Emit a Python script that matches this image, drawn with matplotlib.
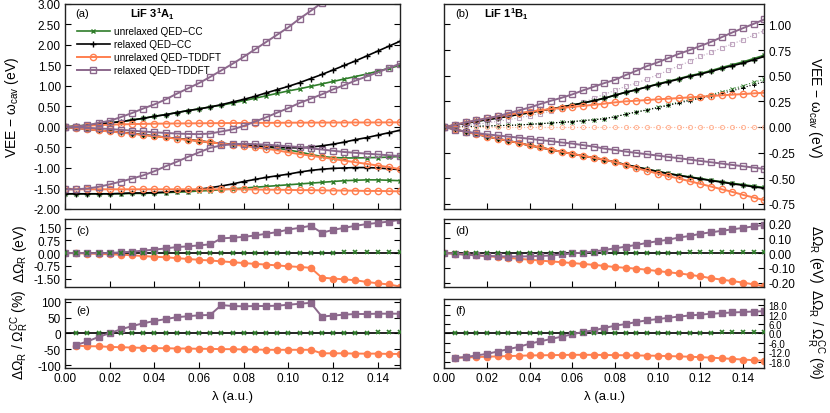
import matplotlib
matplotlib.use("Agg")
import matplotlib.pyplot as plt

plt.rcParams['font.family'] = ['Liberation Sans', 'DejaVu Sans']
plt.rcParams['mathtext.fontset'] = 'custom'
plt.rcParams['mathtext.rm'] = 'Liberation Sans'
plt.rcParams['mathtext.it'] = 'Liberation Sans:italic'
plt.rcParams['mathtext.bf'] = 'Liberation Sans:bold'
plt.rcParams['axes.unicode_minus'] = False

# coupling strength grid (a.u.)
lam = [round(0.005 * i, 3) for i in range(31)]
lam_pct = lam[1:]

# ---- panel (a): LiF 3^1A_1, VEE - w_cav (eV) ----
a_unrel_cc = [
    [0, .02, .04, .07, .10, .13, .17, .21, .26, .30, .35, .40, .44, .49, .53, .585, .64, .70, .76, .82,
     .88, .93, .99, 1.05, 1.11, 1.17, 1.23, 1.29, 1.36, 1.43, 1.50],
    [0, -.025, -.05, -.08, -.105, -.13, -.16, -.19, -.22, -.25, -.28, -.31, -.34, -.37, -.40, -.42, -.44,
     -.46, -.49, -.52, -.56, -.61, -.67, -.72, -.745, -.755, -.755, -.75, -.745, -.735, -.72],
    [-1.63, -1.63, -1.63, -1.63, -1.63, -1.63, -1.62, -1.62, -1.61, -1.60, -1.59, -1.58, -1.56, -1.55,
     -1.53, -1.51, -1.49, -1.47, -1.45, -1.43, -1.41, -1.39, -1.37, -1.35, -1.33, -1.31, -1.30, -1.29,
     -1.29, -1.30, -1.31],
]
a_rel_cc = [
    [0, .02, .045, .07, .10, .13, .17, .21, .26, .30, .35, .40, .44, .49, .544, .61, .673, .746, .83, .91,
     .99, 1.08, 1.18, 1.28, 1.39, 1.50, 1.61, 1.73, 1.85, 1.97, 2.09],
    [0, -.025, -.05, -.08, -.105, -.13, -.16, -.19, -.22, -.25, -.28, -.31, -.34, -.37, -.40, -.42, -.44,
     -.46, -.48, -.495, -.505, -.51, -.49, -.46, -.42, -.37, -.31, -.26, -.20, -.14, -.08],
    [-1.63, -1.63, -1.63, -1.63, -1.63, -1.62, -1.61, -1.61, -1.60, -1.59, -1.57, -1.55, -1.52, -1.48,
     -1.44, -1.39, -1.33, -1.28, -1.23, -1.19, -1.15, -1.10, -1.06, -1.03, -1.01, -1.00, -.99, -.99,
     -1.00, -1.02, -1.04],
]
a_unrel_td = [
    [0, .01, .03, .045, .055, .065, .07, .075, .08, .083, .086, .088, .09, .092, .094, .096, .098, .10,
     .10, .102, .104, .105, .106, .107, .108, .109, .11, .11, .111, .112, .113],
    [0, -.03, -.055, -.085, -.11, -.135, -.165, -.195, -.225, -.255, -.285, -.315, -.345, -.375, -.405,
     -.43, -.46, -.50, -.53, -.57, -.62, -.66, -.70, -.74, -.78, -.82, -.86, -.90, -.94, -.98, -1.03],
    [-1.52, -1.52, -1.52, -1.52, -1.52, -1.52, -1.52, -1.52, -1.52, -1.52, -1.52, -1.52, -1.52, -1.52,
     -1.52, -1.52, -1.52, -1.525, -1.53, -1.53, -1.535, -1.54, -1.54, -1.545, -1.55, -1.55, -1.555,
     -1.56, -1.56, -1.565, -1.57],
]
a_rel_td = [
    [0, .0, .04, .10, .15, .24, .34, .45, .55, .67, .81, .94, 1.07, 1.22, 1.38, 1.54, 1.71, 1.89, 2.07,
     2.25, 2.43, 2.64, 2.83, 3.03, 3.23, 3.43, 3.63, 3.83, 4.03, 4.23, 4.43],
    [0, -.005, -.02, -.035, -.05, -.07, -.09, -.11, -.13, -.145, -.16, -.17, -.175, -.16, -.11, -.06,
     .024, .13, .234, .35, .46, .585, .69, .795, .917, 1.02, 1.13, 1.23, 1.33, 1.44, 1.54],
    [-1.52, -1.52, -1.50, -1.46, -1.40, -1.33, -1.26, -1.18, -1.08, -.96, -.85, -.73, -.62, -.51, -.45,
     -.42, -.41, -.42, -.43, -.45, -.47, -.49, -.52, -.55, -.58, -.61, -.63, -.65, -.67, -.69, -.71],
]

# ---- panel (b): LiF 1^1B_1 ----
b_unrel_cc = [
    [0, .019, .036, .055, .071, .088, .104, .123, .139, .159, .175, .195, .214, .234, .256, .28, .31,
     .338, .364, .392, .42, .446, .472, .50, .522, .55, .58, .607, .635, .667, .70],
    [0, -.023, -.047, -.07, -.093, -.114, -.134, -.157, -.18, -.20, -.221, -.242, -.262, -.282, -.30,
     -.318, -.344, -.367, -.39, -.411, -.433, -.453, -.471, -.487, -.503, -.519, -.534, -.55, -.562,
     -.577, -.59],
]
b_rel_cc = [
    [0, .019, .036, .055, .071, .088, .104, .123, .139, .159, .175, .195, .214, .234, .256, .28, .31,
     .338, .363, .39, .416, .441, .467, .494, .516, .542, .571, .597, .623, .655, .688],
    [0, -.023, -.047, -.07, -.093, -.114, -.134, -.157, -.18, -.20, -.221, -.242, -.262, -.282, -.30,
     -.318, -.344, -.367, -.39, -.412, -.435, -.455, -.474, -.49, -.506, -.523, -.538, -.555, -.568,
     -.584, -.597],
]
b_unrel_td = [
    [0, .022, .044, .064, .084, .103, .12, .136, .15, .163, .175, .186, .196, .206, .216, .227, .24,
     .25, .256, .263, .27, .276, .282, .289, .295, .302, .309, .315, .321, .328, .334],
    [0, -.023, -.047, -.07, -.093, -.114, -.134, -.157, -.18, -.20, -.221, -.242, -.262, -.282, -.30,
     -.318, -.344, -.373, -.402, -.428, -.455, -.48, -.503, -.529, -.555, -.581, -.607, -.633, -.662,
     -.688, -.714],
]
b_rel_td = [
    [0, .019, .045, .065, .085, .104, .133, .162, .19, .224, .256, .285, .318, .357, .392, .428, .46,
     .506, .548, .594, .63, .672, .714, .75, .79, .83, .876, .922, .964, 1.006, 1.049],
    [0, -.026, -.046, -.059, -.072, -.083, -.094, -.104, -.115, -.128, -.138, -.151, -.162, -.177, -.191,
     -.211, -.224, -.24, -.253, -.266, -.279, -.292, -.305, -.318, -.331, -.344, -.357, -.37, -.383,
     -.396, -.409],
]
# second (dotted) set of states in (b)
b_unrel_cc_dot = [0, 0, .003, .006, .01, .013, .016, .019, .026, .032, .039, .045, .052, .062, .071, .081,
                  .10, .124, .146, .168, .192, .217, .243, .266, .292, .315, .344, .37, .402, .435, .467]
b_rel_cc_dot = [0, 0, .003, .006, .01, .013, .016, .019, .026, .032, .039, .045, .052, .062, .071, .081,
                .10, .124, .146, .165, .188, .21, .235, .257, .28, .302, .328, .353, .383, .413, .443]
b_unrel_td_dot = [0] * 31
b_rel_td_dot = [0, .005, .015, .025, .04, .055, .07, .09, .11, .13, .155, .18, .21, .24, .28, .318, .357,
                .396, .428, .467, .509, .552, .597, .64, .688, .727, .772, .81, .85, .896, .941]

# ---- panel (c): Delta Omega_R (eV), 3^1A_1 ----
c_unrel_cc = [0] * 24 + [.02, .03, .04, .05, .06, .07, .08]
c_unrel_td = [0, -.01, -.03, -.05, -.08, -.10, -.13, -.18, -.22, -.25, -.30, -.35, -.40, -.44, -.49, -.54,
              -.59, -.64, -.68, -.73, -.78, -.82, -.87, -1.45, -1.50, -1.55, -1.60, -1.70, -1.78, -1.85, -1.97]
c_rel_td = [0, 0, -.01, -.01, 0, .04, .08, .14, .20, .27, .35, .39, .45, .51, .86, .90, .95, 1.03, 1.13,
            1.23, 1.38, 1.48, 1.60, 1.19, 1.36, 1.48, 1.60, 1.70, 1.77, 1.85, 1.95]

# ---- panel (d): Delta Omega_R (eV), 1^1B_1 ----
d_unrel_cc = [0] * 21 + [.002, .003, .004, .005, .006, .007, .008, .009, .01, .01]
d_unrel_td = [0, -.005, -.01, -.016, -.021, -.027, -.033, -.039, -.045, -.051, -.057, -.062, -.068, -.074,
              -.08, -.087, -.095, -.10, -.106, -.113, -.122, -.13, -.138, -.147, -.158, -.17, -.18, -.19,
              -.20, -.212, -.225]
d_rel_td = [0, -.005, -.012, -.016, -.02, -.022, -.024, -.024, -.022, -.02, -.017, -.01, -.003, .003, .01,
            .02, .032, .043, .055, .068, .08, .09, .105, .115, .13, .14, .15, .16, .17, .18, .19]

# ---- panel (e): Delta Omega_R / Omega_R^CC (%), 3^1A_1 ----
e_unrel_cc = [0] * 23 + [1, 1, 2, 3, 4, 4, 4]
e_unrel_td = [-38, -40, -40, -42, -43, -44, -45, -46, -46, -47, -47, -48, -48, -49, -49, -50, -50, -51, -51,
              -51, -51, -51, -62, -62, -62, -63, -63, -63, -64, -64]
e_rel_td = [-36, -25, -11, 1, 13, 23, 32, 39, 45, 51, 54, 57, 58, 89, 86, 85, 86, 86, 87, 90, 93, 96, 53, 56,
            59, 61, 61, 62, 62, 62]

# ---- panel (f): Delta Omega_R / Omega_R^CC (%), 1^1B_1 ----
f_unrel_cc = [0] * 20 + [.2, .3, .4, .5, .6, .7, .8, .9, 1, 1]
f_unrel_td = [-15.5, -15.3, -15, -14.8, -14.6, -14.4, -14.2, -14, -13.9, -13.8, -13.7, -13.6, -13.6, -13.6,
              -13.7, -13.8, -13.9, -14, -14.1, -14.2, -14.4, -14.6, -14.8, -15.1, -15.4, -15.8, -16.2,
              -16.6, -17, -17.5]
f_rel_td = [-15.5, -15, -14, -13, -11.5, -10, -8.5, -6.5, -5, -3.5, -2, -.5, 1, 2, 3.5, 5, 6, 7.3, 8.4, 9.2,
            10, 10.8, 11.5, 12, 12.6, 13, 13.4, 13.7, 14, 14.2]

GREEN = '#2f7d2a'
ORANGE = '#ff7f4f'
PURPLE = '#8c688c'
LPURPLE = '#c0a6c0'
LORANGE = '#ffb597'

sty_ucc = dict(color=GREEN, marker='x', ms=3.2, mew=1.0, lw=1.2)
sty_rcc = dict(color='black', marker='+', ms=4, mew=1.0, lw=1.2)
sty_utd = dict(color=ORANGE, marker='o', ms=4.5, mfc='none', mew=1.0, lw=1.4)
sty_rtd = dict(color=PURPLE, marker='s', ms=5, mfc='none', mew=1.0, lw=1.4)

fig = plt.figure(figsize=(8.3, 4.14), dpi=100)
L, LW = 65 / 830, 335 / 830
R, RW = 444.3 / 830, 320 / 830
rows = [(0.4928, 0.4952), (0.3043, 0.1643), (0.1087, 0.1667)]

axa = fig.add_axes([L, rows[0][0], LW, rows[0][1]])
axb = fig.add_axes([R, rows[0][0], RW, rows[0][1]])
axc = fig.add_axes([L, rows[1][0], LW, rows[1][1]])
axd = fig.add_axes([R, rows[1][0], RW, rows[1][1]])
axe = fig.add_axes([L, rows[2][0], LW, rows[2][1]])
axf = fig.add_axes([R, rows[2][0], RW, rows[2][1]])

# (a)
for i in range(3):
    kw = {} if i else {'label': 'unrelaxed QED\u2212CC'}
    axa.plot(lam, a_unrel_cc[i], **sty_ucc, **kw)
for i in range(3):
    kw = {} if i else {'label': 'relaxed QED\u2212CC'}
    axa.plot(lam, a_rel_cc[i], **sty_rcc, **kw)
for i in range(3):
    kw = {} if i else {'label': 'unrelaxed QED\u2212TDDFT'}
    axa.plot(lam, a_unrel_td[i], **sty_utd, **kw)
for i in range(3):
    kw = {} if i else {'label': 'relaxed QED\u2212TDDFT'}
    axa.plot(lam, a_rel_td[i], **sty_rtd, **kw)
axa.set_ylim(-2, 3)
axa.set_yticks([-2, -1.5, -1, -0.5, 0, 0.5, 1, 1.5, 2, 2.5, 3])
axa.yaxis.set_major_formatter('{x:.2f}')
axa.legend(loc='upper left', bbox_to_anchor=(0.035, 0.892), frameon=False, fontsize=7.2,
           handlelength=3.3, handletextpad=0.45, labelspacing=0.3, borderpad=0, borderaxespad=0)
axa.text(0.03, 0.955, '(a)', transform=axa.transAxes, fontsize=8, va='center')
axa.text(0.195, 0.955, r'LiF 3$^{\mathbf{1}}$A$_{\mathbf{1}}$', transform=axa.transAxes,
         fontsize=8, fontweight='bold', va='center')

# (b)
axb.plot(lam, b_unrel_cc_dot, color=GREEN, marker='x', ms=2.5, mew=0.7, lw=0.8, ls=':')
axb.plot(lam, b_rel_cc_dot, color='black', marker='+', ms=3, mew=0.7, lw=0.8, ls=':')
axb.plot(lam, b_unrel_td_dot, color=LORANGE, marker='o', ms=3, mfc='none', mew=0.7, lw=0.8, ls=':')
axb.plot(lam, b_rel_td_dot, color=LPURPLE, marker='s', ms=3, mfc='none', mew=0.8, lw=0.8, ls=':')
for i in range(2):
    axb.plot(lam, b_unrel_cc[i], **sty_ucc)
    axb.plot(lam, b_rel_cc[i], **sty_rcc)
    axb.plot(lam, b_unrel_td[i], **sty_utd)
    axb.plot(lam, b_rel_td[i], **sty_rtd)
axb.set_ylim(-0.8, 1.2)
axb.set_yticks([-0.75, -0.5, -0.25, 0, 0.25, 0.5, 0.75, 1.0])
axb.yaxis.set_major_formatter('{x:.2f}')
axb.text(0.035, 0.955, '(b)', transform=axb.transAxes, fontsize=8, va='center')
axb.text(0.125, 0.955, r'LiF 1$^{\mathbf{1}}$B$_{\mathbf{1}}$', transform=axb.transAxes,
         fontsize=8, fontweight='bold', va='center')

# difference panels
fill_td = dict(color=ORANGE, marker='o', ms=4.5, lw=1.4)
fill_rtd = dict(color=PURPLE, marker='s', ms=4.5, lw=1.4)
green_x = dict(color=GREEN, marker='x', ms=3.5, mew=1.2, lw=0)

for ax, x, ucc, utd, rtd in [(axc, lam, c_unrel_cc, c_unrel_td, c_rel_td),
                             (axd, lam, d_unrel_cc, d_unrel_td, d_rel_td),
                             (axe, lam_pct, e_unrel_cc, e_unrel_td, e_rel_td),
                             (axf, lam_pct, f_unrel_cc, f_unrel_td, f_rel_td)]:
    ax.axhline(0, color='black', lw=1.2, zorder=1)
    ax.plot(x, ucc, **green_x, zorder=3)
    ax.plot(x, utd, **fill_td, zorder=2)
    ax.plot(x, rtd, **fill_rtd, zorder=2)

axc.set_ylim(-2, 2)
axc.set_yticks([-1.5, -0.75, 0, 0.75, 1.5])
axc.yaxis.set_major_formatter('{x:.2f}')
axd.set_ylim(-0.23, 0.23)
axd.set_yticks([-0.2, -0.1, 0, 0.1, 0.2])
axd.yaxis.set_major_formatter('{x:.2f}')
axe.set_ylim(-108, 108)
axe.set_yticks([-100, -50, 0, 50, 100])
axf.set_ylim(-22, 22)
axf.set_yticks([-18, -12, -6, 0, 6, 12, 18])
axf.yaxis.set_major_formatter('{x:.1f}')

for ax, lab in [(axc, '(c)'), (axd, '(d)'), (axe, '(e)'), (axf, '(f)')]:
    ax.text(0.035, 0.84, lab, transform=ax.transAxes, fontsize=8, va='center')

for ax in [axa, axb, axc, axd, axe, axf]:
    ax.set_xlim(0, 0.15)
    ax.set_xticks([0, 0.02, 0.04, 0.06, 0.08, 0.10, 0.12, 0.14])
    ax.xaxis.set_major_formatter('{x:.2f}')
    ax.tick_params(direction='in', length=4, width=0.8, labelsize=8.5, top=False,
                   left=True, right=True, pad=3)
    for s in ax.spines.values():
        s.set_linewidth(1.0)
        s.set_color('#222222')
    if ax not in (axe, axf):
        ax.tick_params(labelbottom=False)

for ax in [axb, axd, axf]:
    ax.tick_params(labelleft=False, labelright=True)
# crowded percent ticks need a smaller font
axf.tick_params(axis='y', labelsize=7)

lab_top = 'VEE \u2212 \u03c9$_{\\rm cav}$ (eV)'
lab_ev = '\u0394\u03a9$_{\\rm R}$ (eV)'
lab_pct = '\u0394\u03a9$_{\\rm R}$ / \u03a9$_{\\rm R}^{\\rm CC}$ (%)'

axa.set_ylabel(lab_top, fontsize=10, va='center')
axa.yaxis.set_label_coords(-0.158, 0.5)
axc.set_ylabel(lab_ev, fontsize=10, va='center')
axc.yaxis.set_label_coords(-0.134, 0.5)
axe.set_ylabel(lab_pct, fontsize=10, va='center')
axe.yaxis.set_label_coords(-0.134, 0.5)

axb.yaxis.set_label_position('right')
axb.set_ylabel(lab_top, fontsize=10, rotation=270, va='center')
axb.yaxis.set_label_coords(1.158, 0.5)
axd.yaxis.set_label_position('right')
axd.set_ylabel(lab_ev, fontsize=10, rotation=270, va='center')
axd.yaxis.set_label_coords(1.163, 0.5)
axf.yaxis.set_label_position('right')
axf.set_ylabel(lab_pct, fontsize=10, rotation=270, va='center')
axf.yaxis.set_label_coords(1.158, 0.5)

axe.set_xlabel('\u03bb (a.u.)', fontsize=9.5, labelpad=4)
axf.set_xlabel('\u03bb (a.u.)', fontsize=9.5, labelpad=4)

fig.savefig('out.png', dpi=100)
